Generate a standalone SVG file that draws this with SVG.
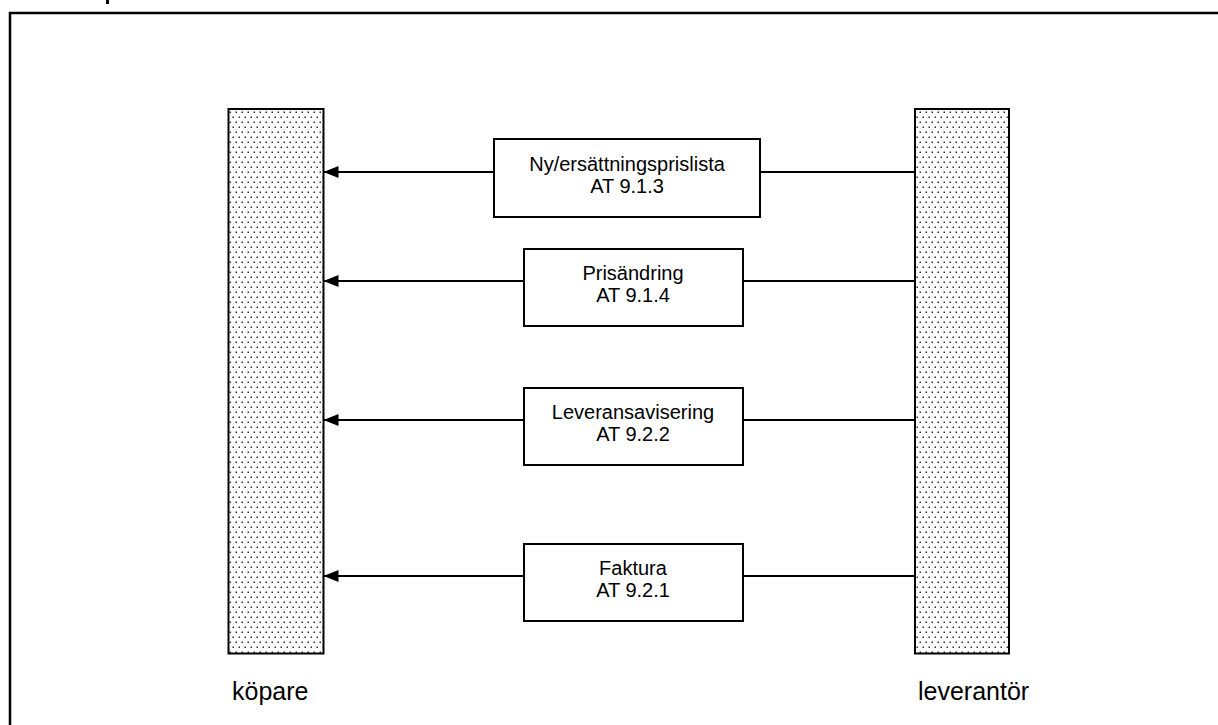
<svg xmlns="http://www.w3.org/2000/svg" width="1218" height="725" viewBox="0 0 1218 725">
<style>
.box{fill:#fff;stroke:#000;stroke-width:2}
.bar{fill:url(#dots);stroke:#000;stroke-width:2}
.t{font-family:"Liberation Sans",Arial,sans-serif;font-size:20px;fill:#000;text-anchor:middle}
.lbl{font-family:"Liberation Sans",Arial,sans-serif;font-size:25px;fill:#000}
.ln{stroke:#000;stroke-width:2;fill:none}
</style>
<defs>
<pattern id="dots" x="0" y="0" width="6" height="10" patternUnits="userSpaceOnUse">
<rect width="6" height="10" fill="#fff"/>
<rect x="1.5" y="1.5" width="1.5" height="1.5" fill="#333"/>
<rect x="4.5" y="6.5" width="1.5" height="1.5" fill="#333"/>
</pattern>
<marker id="arr" markerWidth="16" markerHeight="12" refX="15" refY="6" orient="auto" markerUnits="userSpaceOnUse">
<path d="M0,0 L15,6 L0,12 Z" fill="#000"/>
</marker>
</defs>
<rect x="0" y="0" width="1218" height="725" fill="#fff"/>
<rect x="106" y="0" width="3" height="4" fill="#000"/>
<rect x="10" y="13" width="1230" height="740" fill="none" stroke="#000" stroke-width="2.5"/>
<g id="kopare">
<rect class="bar" x="228.5" y="109" width="95" height="544.5"/>
<text class="lbl" x="232" y="700">köpare</text>
</g>
<g id="leverantor">
<rect class="bar" x="915" y="109" width="94" height="544.5"/>
<text class="lbl" x="918" y="700">leverantör</text>
</g>
<g id="connectors">
<line class="ln" x1="915" y1="172" x2="323.5" y2="172" marker-end="url(#arr)"/>
<line class="ln" x1="915" y1="281" x2="323.5" y2="281" marker-end="url(#arr)"/>
<line class="ln" x1="915" y1="420" x2="323.5" y2="420" marker-end="url(#arr)"/>
<line class="ln" x1="915" y1="576" x2="323.5" y2="576" marker-end="url(#arr)"/>
</g>
<g id="msg1">
<rect class="box" x="494" y="139" width="266" height="78"/>
<text class="t" x="627" y="171">Ny/ersättningsprislista</text>
<text class="t" x="627" y="193">AT 9.1.3</text>
</g>
<g id="msg2">
<rect class="box" x="524" y="249" width="219" height="77"/>
<text class="t" x="633" y="280">Prisändring</text>
<text class="t" x="633" y="302">AT 9.1.4</text>
</g>
<g id="msg3">
<rect class="box" x="524" y="388" width="219" height="77"/>
<text class="t" x="633" y="419">Leveransavisering</text>
<text class="t" x="633" y="441">AT 9.2.2</text>
</g>
<g id="msg4">
<rect class="box" x="524" y="544" width="219" height="77"/>
<text class="t" x="633" y="575">Faktura</text>
<text class="t" x="633" y="597">AT 9.2.1</text>
</g>
</svg>
